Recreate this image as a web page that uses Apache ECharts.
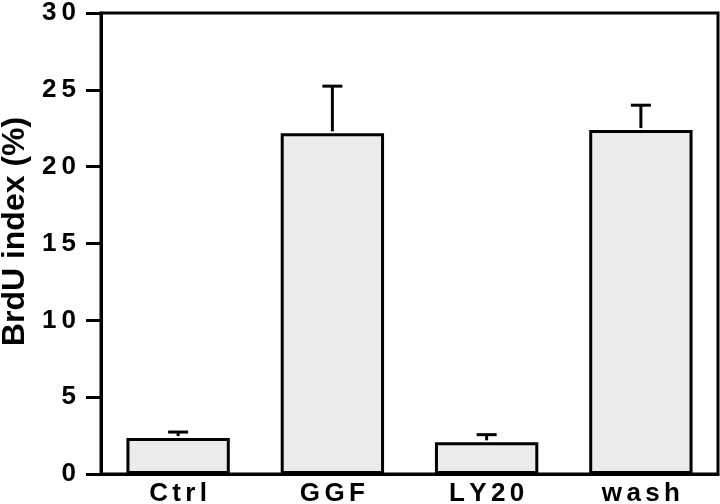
<!DOCTYPE html>
<html>
<head>
<meta charset="utf-8">
<script src="https://cdn.jsdelivr.net/npm/echarts@6/dist/echarts.min.js"></script>
<style>html,body{margin:0;padding:0;background:#fff}#c{width:720px;height:504px}</style>
</head>
<body>
<div id="c"></div>
<script>
const categories = ['Ctrl', 'GGF', 'LY20', 'wash'];
const values = [2.34, 22.17, 2.06, 22.38];
const errors = [0.39, 3.07, 0.50, 1.62];
const yTicks = [0, 5, 10, 15, 20, 25, 30];

const THIN = '\u2009';
const HAIR = '\u200A';
const spaced = (s, sep) => String(s).split('').join(sep);
const FONT = '"Liberation Sans", Arial, Helvetica, sans-serif';

const chart = echarts.init(document.getElementById('c'));
chart.setOption({
  animation: false,
  grid: {left: 101, right: 2, top: 13, bottom: 30, outerBoundsMode: 'none', containLabel: false,
    show: true, borderColor: '#000', borderWidth: 3, backgroundColor: 'transparent'},
  xAxis: {
    type: 'category', data: categories,
    axisLine: {lineStyle: {color: '#000', width: 3}},
    axisTick: {show: false},
    axisLabel: {color: '#000', fontFamily: FONT, fontWeight: 'bold', fontSize: 26, margin: 7, formatter: v => spaced(v, HAIR + HAIR)}
  },
  yAxis: {
    type: 'value', min: 0, max: 30, interval: 5,
    name: 'BrdU index (%)', nameLocation: 'middle', nameGap: 68,
    nameTextStyle: {color: '#000', fontFamily: FONT, fontWeight: 'bold', fontSize: 32, padding: [0, 0, 0, 24]},
    axisLine: {show: true, lineStyle: {color: '#000', width: 3}},
    axisTick: {show: true, length: 15, lineStyle: {color: '#000', width: 3}},
    splitLine: {show: false},
    axisLabel: {color: '#000', fontFamily: FONT, fontWeight: 'bold', fontSize: 26, margin: 25,
      formatter: v => yTicks.includes(v) ? spaced(v, THIN) : ''}
  },
  series: [
    {
      type: 'bar', data: values, barWidth: '67%',
      itemStyle: {color: '#ebebeb', borderColor: '#000', borderWidth: 3},
      z: 2
    },
    {
      type: 'custom', z: 3,
      data: values.map((v, i) => [i, v, v + errors[i]]),
      renderItem: function (params, api) {
        const x = api.value(0);
        const lo = api.coord([x, api.value(1)]);
        const hi = api.coord([x, api.value(2)]);
        const half = 10;
        return {
          type: 'group',
          children: [
            {type: 'line', shape: {x1: lo[0], y1: lo[1] - 2, x2: hi[0], y2: hi[1]}, style: {stroke: '#000', lineWidth: 3}},
            {type: 'line', shape: {x1: hi[0] - half, y1: hi[1], x2: hi[0] + half, y2: hi[1]}, style: {stroke: '#000', lineWidth: 3}}
          ]
        };
      }
    }
  ]
});
</script>
</body>
</html>
